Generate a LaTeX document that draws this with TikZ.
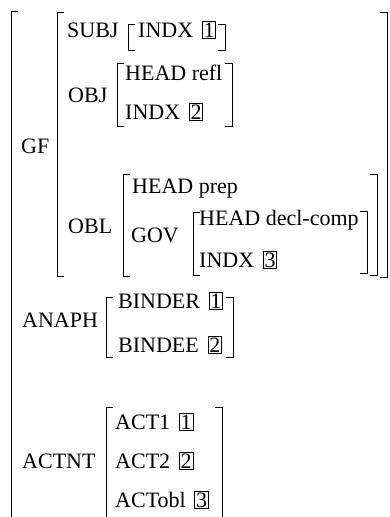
\documentclass[tikz,border=0pt]{standalone}
\usepackage{fontspec}
\setmainfont{Liberation Serif}
\begin{document}
\begin{tikzpicture}[x=1pt,y=-1pt,
  lbl/.style={anchor=base west,inner sep=0pt,font=\fontsize{22}{26}\selectfont},
  tagbox/.style={anchor=base west,draw,line width=0.8pt,inner xsep=1.3pt,inner ysep=1.3pt,text height=14.5pt,text depth=0pt,font=\fontsize{22}{26}\selectfont},
  brk/.style={line width=0.9pt}]
\useasboundingbox (0,0) rectangle (390,517);
\newcommand{\lbr}[3]{\draw[brk] (#1+7,#2) -- (#1,#2) -- (#1,#3) -- (#1+7,#3);}
\newcommand{\rbr}[3]{\draw[brk] (#1-7,#2) -- (#1,#2) -- (#1,#3) -- (#1-7,#3);}
% outer
\lbr{11}{11}{530}
% GF
\node[lbl] (gf) at (21,153) {GF};
\lbr{57}{12}{276}
\rbr{387}{12}{277}
% SUBJ
\node[lbl] (subj) at (67,37) {SUBJ};
\lbr{128}{24}{50}
\node[lbl] (sindx) at (138,37) {INDX};
\node[tagbox] (s1) at ([xshift=8.5pt]sindx.base east) {1};
\rbr{225}{24}{50}
% OBJ
\node[lbl] (obj) at (68,102) {OBJ};
\lbr{117}{63}{126}
\node[lbl] (ohead) at (125,80) {HEAD refl};
\node[lbl] (oindx) at (125,119) {INDX};
\node[tagbox] (o2) at ([xshift=8.5pt]oindx.base east) {2};
\rbr{232}{63}{126}
% OBL
\node[lbl] (obl) at (68,233) {OBL};
\lbr{123}{174}{276}
\node[lbl] (bhead) at (132,193) {HEAD prep};
\node[lbl] (gov) at (131,242) {GOV};
\lbr{193}{212}{275}
\node[lbl] (ghead) at (199,225) {HEAD decl-comp};
\node[lbl] (gindx) at (199,267) {INDX};
\node[tagbox] (g3) at ([xshift=8.5pt]gindx.base east) {3};
\rbr{367}{211}{273}
\rbr{377}{174}{275}
% ANAPH
\node[lbl] (anaph) at (22,327) {ANAPH};
\lbr{106}{297}{357}
\node[lbl] (binder) at (118,308) {BINDER};
\node[tagbox] (b1) at ([xshift=8.5pt]binder.base east) {1};
\node[lbl] (bindee) at (118,352) {BINDEE};
\node[tagbox] (b2) at ([xshift=8.5pt]bindee.base east) {2};
\rbr{233}{297}{357}
% ACTNT
\node[lbl] (actnt) at (22,468) {ACTNT};
\lbr{106}{407}{530}
\node[lbl] (act1) at (115,429) {ACT1};
\node[tagbox] (a1) at ([xshift=8.5pt]act1.base east) {1};
\node[lbl] (act2) at (115,468) {ACT2};
\node[tagbox] (a2) at ([xshift=8.5pt]act2.base east) {2};
\node[lbl] (actobl) at (115,507) {ACTobl};
\node[tagbox] (a3) at ([xshift=8.5pt]actobl.base east) {3};
\rbr{222}{407}{530}
\end{tikzpicture}
\end{document}
